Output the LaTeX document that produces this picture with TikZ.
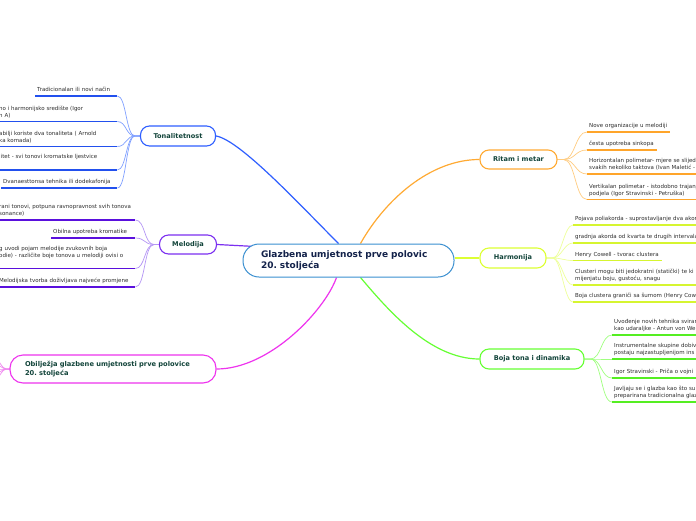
\documentclass[tikz,border=0pt]{standalone}
\usepackage{fontspec}
\setmainfont{DejaVu Sans}
\usetikzlibrary{calc,backgrounds}
\definecolor{cBlue}{HTML}{2F5FFF}
\definecolor{cBlueL}{HTML}{80A0FF}
\definecolor{cBlueU}{HTML}{2250EE}
\definecolor{cPur}{HTML}{7B2FF0}
\definecolor{cPurL}{HTML}{B596F5}
\definecolor{cPurU}{HTML}{5A10DD}
\definecolor{cMag}{HTML}{EE33EE}
\definecolor{cMagL}{HTML}{F08AF0}
\definecolor{cOra}{HTML}{FFAA33}
\definecolor{cOraL}{HTML}{FFCC80}
\definecolor{cOraU}{HTML}{FFA52A}
\definecolor{cYel}{HTML}{DDFF33}
\definecolor{cYelL}{HTML}{EEFF99}
\definecolor{cYelU}{HTML}{D6F530}
\definecolor{cGre}{HTML}{66FF33}
\definecolor{cGreL}{HTML}{A0FF80}
\definecolor{cGreU}{HTML}{55EE22}
\definecolor{cCen}{HTML}{3A8FD0}
\definecolor{cNavy}{HTML}{13224A}
\definecolor{cMainTxt}{HTML}{12443A}
\definecolor{cLeafTxt}{HTML}{2E2E2E}
\newcommand\leafdp{\vrule width 0pt height 0pt depth 4.3pt}
\frenchspacing
\begin{document}
\begin{tikzpicture}[x=1pt,y=-1pt,
  mainbox/.style={draw, fill=white, line width=1.1pt, rounded corners=9pt, inner sep=0pt,
    font=\bfseries\fontsize{6.6}{8.5}\selectfont, text=cMainTxt},
  centerbox/.style={draw=cCen, fill=white, line width=1pt, rounded corners=16pt,
    minimum height=33pt, text width=175pt, inner xsep=18pt, align=left,
    font=\bfseries\fontsize{9}{10.5}\selectfont, text=cNavy},
  leaf/.style={anchor=south west, align=left, inner xsep=2pt, inner ysep=0pt,
    font=\fontsize{5.5}{6.6}\selectfont, text=cLeafTxt},
  ul/.style={line width=1.7pt},
  lc/.style={line width=0.7pt},
  mc/.style={line width=1.2pt}]
\useasboundingbox (0,0) rectangle (696,520);

% central node
\node[centerbox] (c) at (348.5,260.5) {Glazbena umjetnost prve polovic\\20. stoljeća};

% main branches
\node[mainbox, draw=cBlue, minimum width=75pt, minimum height=20pt] (ton) at (178,136) {Tonalitetnost};
\node[mainbox, draw=cPur, minimum width=57pt, minimum height=19pt] (mel) at (188,244.5) {Melodija};
\node[mainbox, draw=cMag, rounded corners=13pt, minimum height=28pt, text width=176pt, inner xsep=15pt, align=left,
  font=\bfseries\fontsize{6.7}{8.4}\selectfont] (obi) at (113,369) {Obilježja glazbene umjetnosti prve polovice\\20. stoljeća};
\node[mainbox, draw=cOra, minimum width=77pt, minimum height=19pt] (rit) at (518.5,159.5) {Ritam i metar};
\node[mainbox, draw=cYel, minimum width=66pt, minimum height=20pt] (har) at (513,258) {Harmonija};
\node[mainbox, draw=cGre, minimum width=104pt, minimum height=20pt] (boj) at (532,359) {Boja tona i dinamika};

% Tonalitetnost leaves
\node[leaf, text width=78pt] (b1) at (35,96) {Tradicionalan ili novi način\leafdp};
\node[leaf, text width=116pt] (b2) at (-3,121.5) {\mbox{no i harmonijsko središte (Igor}\\\mbox{n A)}\leafdp};
\node[leaf, text width=116pt] (b3) at (-3,146.5) {\mbox{abilji koriste dva tonaliteta ( Arnold}\\\mbox{ka komada)}\leafdp};
\node[leaf, text width=116pt] (b4) at (-3,170) {\mbox{litet - svi tonovi kromatske ljestvice}\\\mbox{}\leafdp};
\node[leaf, text width=112pt] (b5) at (1,188) {\mbox{Dvanaesttonsa tehnika ili dodekafonija}\leafdp};

% Melodija leaves
\node[leaf, text width=134pt] (p1) at (-3,220) {\mbox{rani tonovi, potpuna ravnopravnost svih tonova}\\\mbox{sonance)}\leafdp};
\node[leaf, text width=80pt] (p2) at (51,238) {\mbox{Obilna upotreba kromatike}\leafdp};
\node[leaf, text width=134pt] (p3) at (-3,268.5) {\mbox{g uvodi pojam melodije zvukovnih boja}\\\mbox{odie) - različite boje tonova u melodiji ovisi o}\\\mbox{}\leafdp};
\node[leaf, text width=134pt] (p4) at (-3,287) {\mbox{Melodijska tvorba doživljava najveće promjene}\leafdp};

% Ritam i metar leaves
\node[leaf, text width=79pt] (o1) at (587,132) {\mbox{Nove organizacije u melodiji}\leafdp};
\node[leaf, text width=66pt] (o2) at (587,150) {\mbox{česta upotreba sinkopa}\leafdp};
\node[leaf, text width=150pt] (o3) at (587,174) {\mbox{Horizontalan polimetar- mjere se slijed}\\\mbox{svakih nekoliko taktova (Ivan Maletić -}\leafdp};
\node[leaf, text width=150pt] (o4) at (587,199.5) {\mbox{Vertikalan polimetar - istodobno trajanj}\\\mbox{podjela (Igor Stravinski - Petruška)}\leafdp};

% Harmonija leaves
\node[leaf, text width=150pt] (y1) at (573,225) {\mbox{Pojava poliakorda - suprostavljanje dva akor}\leafdp};
\node[leaf, text width=150pt] (y2) at (573,243) {\mbox{gradnja akorda od kvarta te drugih intervala}\leafdp};
\node[leaf, text width=85pt] (y3) at (573,260.5) {\mbox{Henry Cowell - tvorac clustera}\leafdp};
\node[leaf, text width=150pt] (y4) at (573,285) {\mbox{Clusteri mogu biti jedokratni (statički) te ki}\\\mbox{mijenjatu boju, gustoću, snagu}\leafdp};
\node[leaf, text width=150pt] (y5) at (573,302) {\mbox{Boja clustera graniči sa šumom (Henry Cow}\leafdp};

% Boja tona leaves
\node[leaf, text width=120pt] (g1) at (612,335) {\mbox{Uvođenje novih tehnika sviran}\\\mbox{kao udaraljke - Antun von We}\leafdp};
\node[leaf, text width=120pt] (g2) at (612,359) {\mbox{Instrumentalne skupine dobiv}\\\mbox{postaju najzastupljenijom ins}\leafdp};
\node[leaf, text width=120pt] (g3) at (612,378) {\mbox{Igor Stravinski - Priča o vojni}\leafdp};
\node[leaf, text width=120pt] (g4) at (612,402) {\mbox{Javljaju se i glazba kao što su}\\\mbox{preparirana tradicionalna glaz}\leafdp};

% free ends of the Obiljezja leaves (off the page)
\coordinate (m1) at (-20,335);
\coordinate (m2) at (-20,352);
\coordinate (m3) at (-20,369);
\coordinate (m4) at (-20,386);
\coordinate (m5) at (-20,403);

% underlines
\foreach \n in {b1,b2,b3,b4,b5} \draw[ul,cBlueU] (\n.south west) -- (\n.south east);
\foreach \n in {p1,p2,p3,p4} \draw[ul,cPurU] (\n.south west) -- (\n.south east);
\foreach \n in {o1,o2,o3,o4} \draw[ul,cOraU] (\n.south west) -- (\n.south east);
\foreach \n in {y1,y2,y3,y4,y5} \draw[ul,cYelU] (\n.south west) -- (\n.south east);
\foreach \n in {g1,g2,g3,g4} \draw[ul,cGreU] (\n.south west) -- (\n.south east);

\begin{scope}[on background layer]
\fill[white] (0,0) rectangle (696,520);
% main connectors
\draw[mc,cBlue] (ton.east) .. controls (240,140) and (300,205) .. ($(c.north)+(-10,0)$);
\draw[mc,cPur] (mel.east) -- ($(c.north west)+(13,3)$);
\draw[mc,cMag] ($(c.south)+(-12,0)$) .. controls (325,310) and (270,369) .. (obi.east);
\draw[mc,cOra] ($(c.north)+(12,0)$) .. controls (385,200) and (430,159.5) .. (rit.west);
\draw[mc,cYel] ($(c.east)+(0,-2.5)$) -- (har.west);
\draw[mc,cGre] ($(c.south)+(12,0)$) .. controls (388,310) and (430,359) .. (boj.west);
% leaf connectors
\foreach \n in {b1,b2,b3,b4,b5}
  \draw[lc,cBlueL] (ton.west) -- ++(-5,0) .. controls +(-9,0) and +(9,0) .. (\n.south east);
\foreach \n in {p1,p2,p3,p4}
  \draw[lc,cPurL] (mel.west) -- ++(-5,0) .. controls +(-10,0) and +(10,0) .. (\n.south east);
\foreach \n in {o1,o2,o3,o4}
  \draw[lc,cOraL] (rit.east) -- ++(6,0) .. controls +(12,0) and +(-12,0) .. (\n.south west);
\foreach \n in {y1,y2,y3,y4,y5}
  \draw[lc,cYelL] (har.east) -- ++(6,0) .. controls +(9,0) and +(-9,0) .. (\n.south west);
\foreach \n in {g1,g2,g3,g4}
  \draw[lc,cGreL] (boj.east) -- ++(6,0) .. controls +(11,0) and +(-11,0) .. (\n.south west);
\foreach \n in {m1,m2,m3,m4,m5}
  \draw[lc,cMagL] (obi.west) -- ++(-3,0) .. controls +(-8,0) and +(10,0) .. (\n);
\end{scope}
\end{tikzpicture}
\end{document}
